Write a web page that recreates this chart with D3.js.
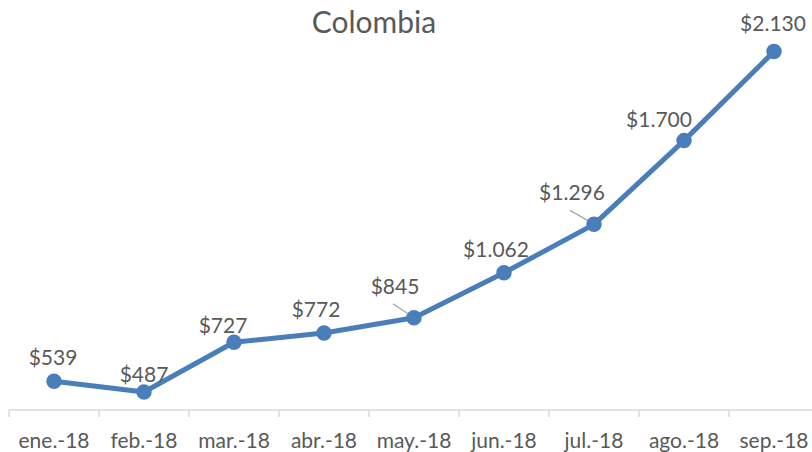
<!DOCTYPE html>
<html>
<head>
<meta charset="utf-8">
<script src="https://cdn.jsdelivr.net/npm/d3@7"></script>
<style>
  body { margin: 0; background: #fff; }
  svg { display: block; font-family: Lato, "Open Sans", sans-serif; }
</style>
</head>
<body>
<div id="chart"></div>
<script>
// datos de la serie
const months = ["ene.-18", "feb.-18", "mar.-18", "abr.-18", "may.-18", "jun.-18", "jul.-18", "ago.-18", "sep.-18"];
const values = [539, 487, 727, 772, 845, 1062, 1296, 1700, 2130];
const valueLabels = ["$539", "$487", "$727", "$772", "$845", "$1.062", "$1.296", "$1.700", "$2.130"];
const chartTitle = "Colombia";

// desplazamiento de etiquetas (como en excel, movidas a mano)
const labelOffsets = [[-1, -16], [0, -10], [-11, -9], [-8, -16], [-19, -24], [-8, -16], [-22, -24], [-25, -14], [-1, -21]];
// etiquetas con línea guía
const leaders = {4: true, 6: true};

const W = 812, H = 452;
const lineColor = "#4a7ebb", textColor = "#595959", axisColor = "#d9d9d9";

const svg = d3.select("#chart").append("svg").attr("width", W).attr("height", H);

const x = d3.scaleBand().domain(months).range([9, 819]).padding(0);
const y = d3.scaleLinear().domain([400, 2200]).range([410, 37]);

// titulo
svg.append("text").attr("x", 374).attr("y", 33).attr("text-anchor", "middle")
    .attr("fill", textColor).style("font-size", "30px").text(chartTitle);

// eje x
const gx = svg.append("g").attr("transform", "translate(0,410)");
gx.append("line").attr("x1", 9).attr("x2", W).attr("y1", 0).attr("y2", 0)
    .attr("stroke", axisColor).attr("stroke-width", 1.5);
gx.selectAll(".tick").data(months.concat(["_end"])).enter().append("line")
    .attr("x1", (d, i) => i < months.length ? x(d) : x.range()[1])
    .attr("x2", (d, i) => i < months.length ? x(d) : x.range()[1])
    .attr("y1", 0).attr("y2", 7)
    .attr("stroke", axisColor).attr("stroke-width", 1.5);
gx.selectAll(".lbl").data(months).enter().append("text")
    .attr("x", d => x(d) + x.bandwidth() / 2).attr("y", 38)
    .attr("text-anchor", "middle").attr("fill", textColor)
    .style("font-size", "21px").text(d => d);

const cx = i => x(months[i]) + x.bandwidth() / 2;

// linea
const line = d3.line().x((d, i) => cx(i)).y(d => y(d));
svg.append("path").datum(values).attr("d", line)
    .attr("fill", "none").attr("stroke", lineColor).attr("stroke-width", 5)
    .attr("stroke-linejoin", "round").attr("stroke-linecap", "round");

// lineas guia
Object.keys(leaders).forEach(k => {
    const i = +k;
    const lx = cx(i) + labelOffsets[i][0], ly = y(values[i]) + labelOffsets[i][1];
    svg.append("line").attr("x1", lx - 2).attr("y1", ly + 10)
        .attr("x2", cx(i) - 3).attr("y2", y(values[i]) - 2)
        .attr("stroke", "#a6a6a6").attr("stroke-width", 1.3);
});

// marcadores
svg.selectAll(".pt").data(values).enter().append("circle")
    .attr("cx", (d, i) => cx(i)).attr("cy", d => y(d)).attr("r", 7)
    .attr("fill", lineColor).attr("stroke", lineColor).attr("stroke-width", 1.5);

// etiquetas de datos
svg.selectAll(".val").data(values).enter().append("text")
    .attr("x", (d, i) => cx(i) + labelOffsets[i][0])
    .attr("y", (d, i) => y(d) + labelOffsets[i][1])
    .attr("text-anchor", "middle").attr("fill", textColor)
    .style("font-size", "21px").text((d, i) => valueLabels[i]);
</script>
</body>
</html>
